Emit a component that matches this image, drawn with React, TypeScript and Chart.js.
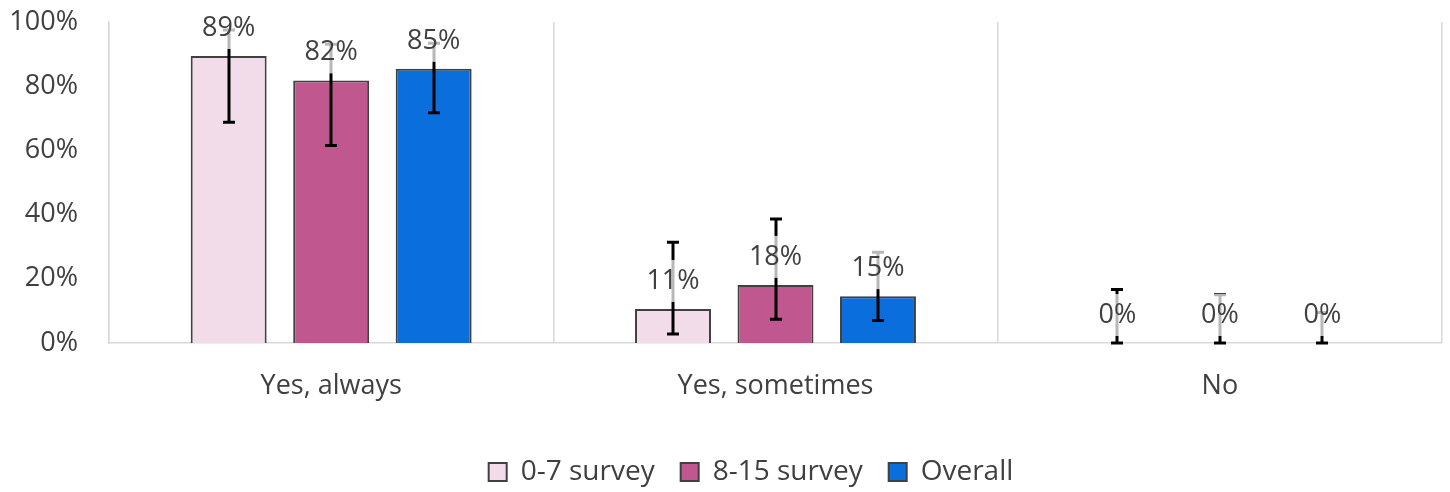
import React, { useEffect, useRef } from "react";
import { Chart, registerables } from "chart.js";

Chart.register(...registerables);

const categories = ["Yes, always", "Yes, sometimes", "No"];
const seriesNames = ["0-7 survey", "8-15 survey", "Overall"];
const values0 = [89.4, 10.6, 0];
const values1 = [81.8, 18.1, 0];
const values2 = [85.4, 14.6, 0];
const errLow0 = [68.8, 2.8, 0];
const errHigh0 = [97.5, 31.4, 16.7];
const errLow1 = [61.5, 7.4, 0];
const errHigh1 = [93.1, 38.6, 15.0];
const errLow2 = [71.7, 7.0, 0];
const errHigh2 = [93.4, 28.3, 9.5];
const yTicks = [0, 20, 40, 60, 80, 100];

const FONT = "'Open Sans', 'Noto Sans', sans-serif";
const TEXT = "#404040";

const errorsLow = [errLow0, errLow1, errLow2];
const errorsHigh = [errHigh0, errHigh1, errHigh2];

const legendShiftPlugin = {
  id: "legendShift",
  afterLayout(chart: any) {
    if (chart.legend) {
      chart.legend.left += 30;
      chart.legend.right += 30;
    }
  },
};

const errorAndLabelPlugin = {
  id: "errorAndLabel",
  afterDatasetsDraw(chart: any) {
    const ctx = chart.ctx;
    const y = chart.scales.y;
    ctx.save();
    ctx.strokeStyle = "#000000";
    ctx.lineWidth = 3;
    chart.data.datasets.forEach((ds: any, di: number) => {
      const meta = chart.getDatasetMeta(di);
      meta.data.forEach((bar: any, i: number) => {
        const x = Math.round(bar.x);
        const yl = y.getPixelForValue(errorsLow[di][i]);
        const yh = y.getPixelForValue(errorsHigh[di][i]);
        ctx.beginPath();
        ctx.moveTo(x, yl);
        ctx.lineTo(x, yh);
        ctx.moveTo(x - 6, yl);
        ctx.lineTo(x + 6, yl);
        ctx.moveTo(x - 6, yh);
        ctx.lineTo(x + 6, yh);
        ctx.stroke();
      });
    });
    ctx.font = `27px ${FONT}`;
    ctx.textAlign = "center";
    ctx.textBaseline = "middle";
    chart.data.datasets.forEach((ds: any, di: number) => {
      const meta = chart.getDatasetMeta(di);
      meta.data.forEach((bar: any, i: number) => {
        const text = Math.round(ds.data[i]) + "%";
        const cx = bar.x;
        const cy = bar.y - 28;
        const w = ctx.measureText(text).width + 4;
        ctx.fillStyle = "rgba(255,255,255,0.72)";
        ctx.fillRect(cx - w / 2, cy - 21, w, 42);
        ctx.fillStyle = TEXT;
        ctx.fillText(text, cx, cy);
      });
    });
    ctx.restore();
  },
};

export default function App() {
  const ref = useRef<HTMLCanvasElement | null>(null);
  useEffect(() => {
    if (!ref.current) return;
    const chart = new Chart(ref.current, {
      type: "bar",
      data: {
        labels: categories,
        datasets: [
          { label: seriesNames[0], data: values0, backgroundColor: "#F2DCE9", borderColor: "#404040", borderWidth: 2 },
          { label: seriesNames[1], data: values1, backgroundColor: "#C0578F", borderColor: "#404040", borderWidth: 2 },
          { label: seriesNames[2], data: values2, backgroundColor: "#0A6EDC", borderColor: "#404040", borderWidth: 2 },
        ],
      },
      options: {
        animation: false,
        responsive: true,
        maintainAspectRatio: false,
        datasets: { bar: { categoryPercentage: 0.692, barPercentage: 0.741 } },
        layout: { padding: { top: 22, right: 8, left: 0, bottom: 0 } },
        plugins: {
          legend: {
            position: "bottom",
            labels: {
              boxWidth: 18,
              boxHeight: 18,
              padding: 26,
              color: TEXT,
              font: { family: FONT, size: 28 },
            },
          },
          tooltip: { enabled: false },
        },
        scales: {
          x: {
            grid: { color: "#D9D9D9", lineWidth: 1.5, drawTicks: false, offset: true },
            border: { color: "#D9D9D9", width: 1.5 },
            ticks: { color: TEXT, font: { family: FONT, size: 27 }, padding: 27 },
            afterFit: (s: any) => { s.height = 89; },
          },
          y: {
            min: 0,
            max: 100,
            afterBuildTicks: (s: any) => { s.ticks = yTicks.map((v) => ({ value: v })); },
            grid: { display: false, drawTicks: false },
            border: { color: "#D9D9D9", width: 1.5 },
            ticks: {
              color: TEXT,
              font: { family: FONT, size: 27 },
              padding: 31,
              callback: (v: any) => v + "%",
            },
            afterFit: (s: any) => { s.width = 109; s.paddingTop = 0; s.paddingBottom = 0; },
          },
        },
      },
      plugins: [errorAndLabelPlugin, legendShiftPlugin],
    });
    return () => chart.destroy();
  }, []);
  return (
    <div style={{ position: "fixed", left: 0, top: 0, width: 1450, height: 496, background: "#fff" }}>
      <canvas ref={ref} />
    </div>
  );
}
